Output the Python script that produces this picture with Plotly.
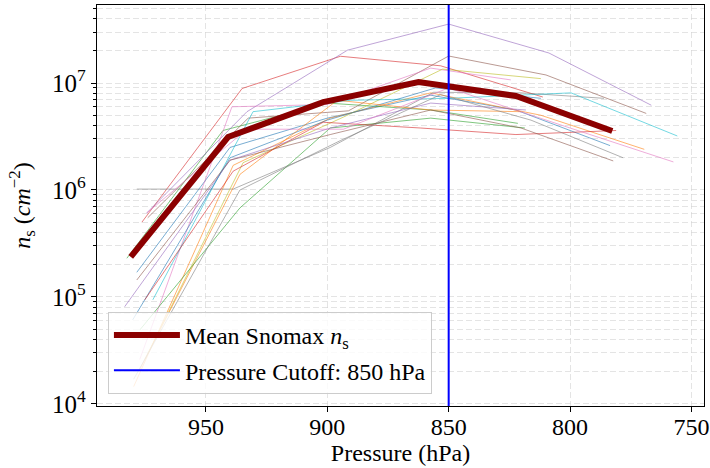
import plotly.graph_objects as go
import plotly.colors as pc

# ---- data ----
flight_pressure = [
    [978.5, 940.1, 900.0, 857.4, 822.3, 783.5],
    [979.8, 938.8, 898.8, 857.4, 812.0, 769.4],
    [982.6, 943.0, 900.0, 857.4, 821.5],
    [976.4, 935.1, 894.6, 853.3, 811.2],
    [974.4, 933.1, 891.7, 850.0, 808.7, 766.5],
    [974.0, 932.6, 891.3, 850.0, 809.9, 768.6],
    [977.3, 939.3, 900.0, 857.4, 824.4],
    [978.5, 938.8, 898.8, 856.2, 820.2, 786.0],
    [975.2, 934.7, 893.4, 852.5, 812.0],
    [971.9, 930.6, 890.5, 850.0, 799.6, 755.8],
    [980.2, 940.1, 900.0, 855.4, 812.0],
    [977.3, 936.0, 895.9, 857.4, 820.2],
    [977.3, 936.0, 898.8, 857.4, 818.6],
    [975.2, 938.8, 901.7, 861.6, 822.3, 781.0],
    [983.5, 940.1, 898.8, 857.4, 818.2],
    [978.5, 940.1, 898.8, 857.4, 820.2, 782.2],
    [974.4, 933.1, 893.4, 850.0, 803.7, 757.4],
    [979.8, 936.0, 894.6, 853.3, 816.1, 778.1],
]
flight_ns = [
    [1.7e5, 2.5e6, 4.7e6, 7.7e6, 5.6e6, 2.6e6],
    [1.45e4, 1.7e6, 4.7e6, 8.1e6, 5.0e6, 2.4e6],
    [2.3e5, 3.6e6, 6.5e6, 5.6e6, 4.2e6],
    [5.0e5, 8.9e6, 1.78e7, 1.45e7, 7.4e6],
    [6.1e5, 5.4e6, 2.03e7, 3.56e7, 1.91e7, 6.2e6],
    [5.5e5, 4.7e6, 5.5e6, 1.79e7, 1.19e7, 5.2e6],
    [2.6e4, 6.0e6, 6.3e6, 1.38e7, 1.07e7],
    [1.02e6, 1.02e6, 2.5e6, 8.2e6, 8.1e6, 7.2e6],
    [2.6e4, 1.8e6, 4.8e6, 1.35e7, 1.1e7],
    [9.4e4, 5.4e6, 6.9e6, 7.2e6, 8.1e6, 3.2e6],
    [6.1e4, 2.0e6, 4.5e6, 9.0e6, 7.2e6],
    [2.1e4, 1.4e6, 6.9e6, 5.6e6, 5.4e6],
    [4.9e4, 6.8e5, 3.8e6, 4.7e6, 3.8e6],
    [9.4e4, 1.5e6, 4.3e6, 3.8e6, 3.3e6, 3.6e6],
    [8.1e4, 1.9e6, 3.8e6, 6.5e6, 5.6e6],
    [1.44e5, 1.9e6, 3.3e6, 5.6e6, 3.8e6, 1.87e6],
    [6.1e5, 3.7e6, 3.7e6, 9.0e6, 4.05e6, 1.83e6],
    [1.7e4, 1.0e6, 2.9e6, 7.8e6, 4.5e6, 2.0e6],
]
mean_pressure = [981.0, 940.9, 901.7, 862.4, 822.3, 782.6]
mean_ns = [2.37e5, 3.13e6, 6.64e6, 1.02e7, 7.57e6, 3.56e6]
cutoff_pressure = 850
x_ticks = [950, 900, 850, 800, 750]
y_ticks = [1e4, 1e5, 1e6, 1e7]
y_tick_labels = ["10<sup>4</sup>", "10<sup>5</sup>", "10<sup>6</sup>", "10<sup>7</sup>"]
y_minor = [m * 10 ** e for e in range(3, 8) for m in range(2, 10)]

# ---- style ----
palette = pc.qualitative.D3
FONT = "Liberation Serif, Times New Roman, serif"


def rgba(hex_color, a):
    h = hex_color.lstrip("#")
    r, g, b = int(h[0:2], 16), int(h[2:4], 16), int(h[4:6], 16)
    return f"rgba({r},{g},{b},{a})"


fig = go.Figure()
for i, (p, n) in enumerate(zip(flight_pressure, flight_ns)):
    fig.add_trace(go.Scatter(
        x=p, y=n, mode="lines", showlegend=False, hoverinfo="skip",
        line=dict(color=rgba(palette[i % 10], 0.6), width=1),
    ))

fig.add_trace(go.Scatter(
    x=mean_pressure, y=mean_ns, mode="lines",
    name="Mean Snomax <i>n</i><sub>s</sub>", legendgroup="a",
    line=dict(color="#8b0000", width=6),
))
fig.add_trace(go.Scatter(
    x=[cutoff_pressure, cutoff_pressure], y=[1e3, 1e9], mode="lines",
    name=f"Pressure Cutoff: {cutoff_pressure} hPa", legendgroup="b",
    line=dict(color="#0000ff", width=2),
))

grid = "rgba(210,210,210,0.6)"
fig.update_layout(
    width=710, height=468,
    margin=dict(l=97, r=6, t=5, b=62),
    paper_bgcolor="white", plot_bgcolor="white",
    font=dict(family=FONT, size=24, color="black"),
    legend=dict(
        x=0.018, y=0.03, xanchor="left", yanchor="bottom",
        bgcolor="rgba(255,255,255,0.8)", bordercolor="#cccccc", borderwidth=1,
        font=dict(family=FONT, size=24, color="black"), traceorder="grouped",
        tracegroupgap=1, itemwidth=66,
    ),
    xaxis=dict(
        range=[994.9, 744.8], tickvals=x_ticks, ticks="outside", ticklen=5,
        tickcolor="black", showline=True, linecolor="black", linewidth=1.3,
        mirror=True, showgrid=True, gridcolor=grid, griddash="6px,3px",
        zeroline=False, tickfont=dict(family=FONT, size=24, color="black"),
        ticklabelstandoff=-6,
        title=dict(text="Pressure (hPa)", standoff=4,
                   font=dict(family=FONT, size=24, color="black")),
        automargin=False,
    ),
    yaxis=dict(
        type="log", range=[3.98, 7.73], tickvals=y_ticks, ticktext=y_tick_labels,
        ticks="outside", ticklen=5, tickcolor="black", showline=True,
        linecolor="black", linewidth=1.3, mirror=True, showgrid=True,
        gridcolor=grid, griddash="6px,3px", zeroline=False,
        tickfont=dict(family=FONT, size=25, color="black"),
        minor=dict(tickvals=y_minor, ticks="outside", ticklen=3, tickcolor="black",
                   showgrid=True, gridcolor=grid, griddash="6px,3px"),
        title=dict(text="<i>n</i><sub>s</sub> (<i>cm</i><sup>−2</sup>)", standoff=14,
                   font=dict(family=FONT, size=24, color="black")),
        automargin=False,
    ),
)

fig.write_html("out.html")
